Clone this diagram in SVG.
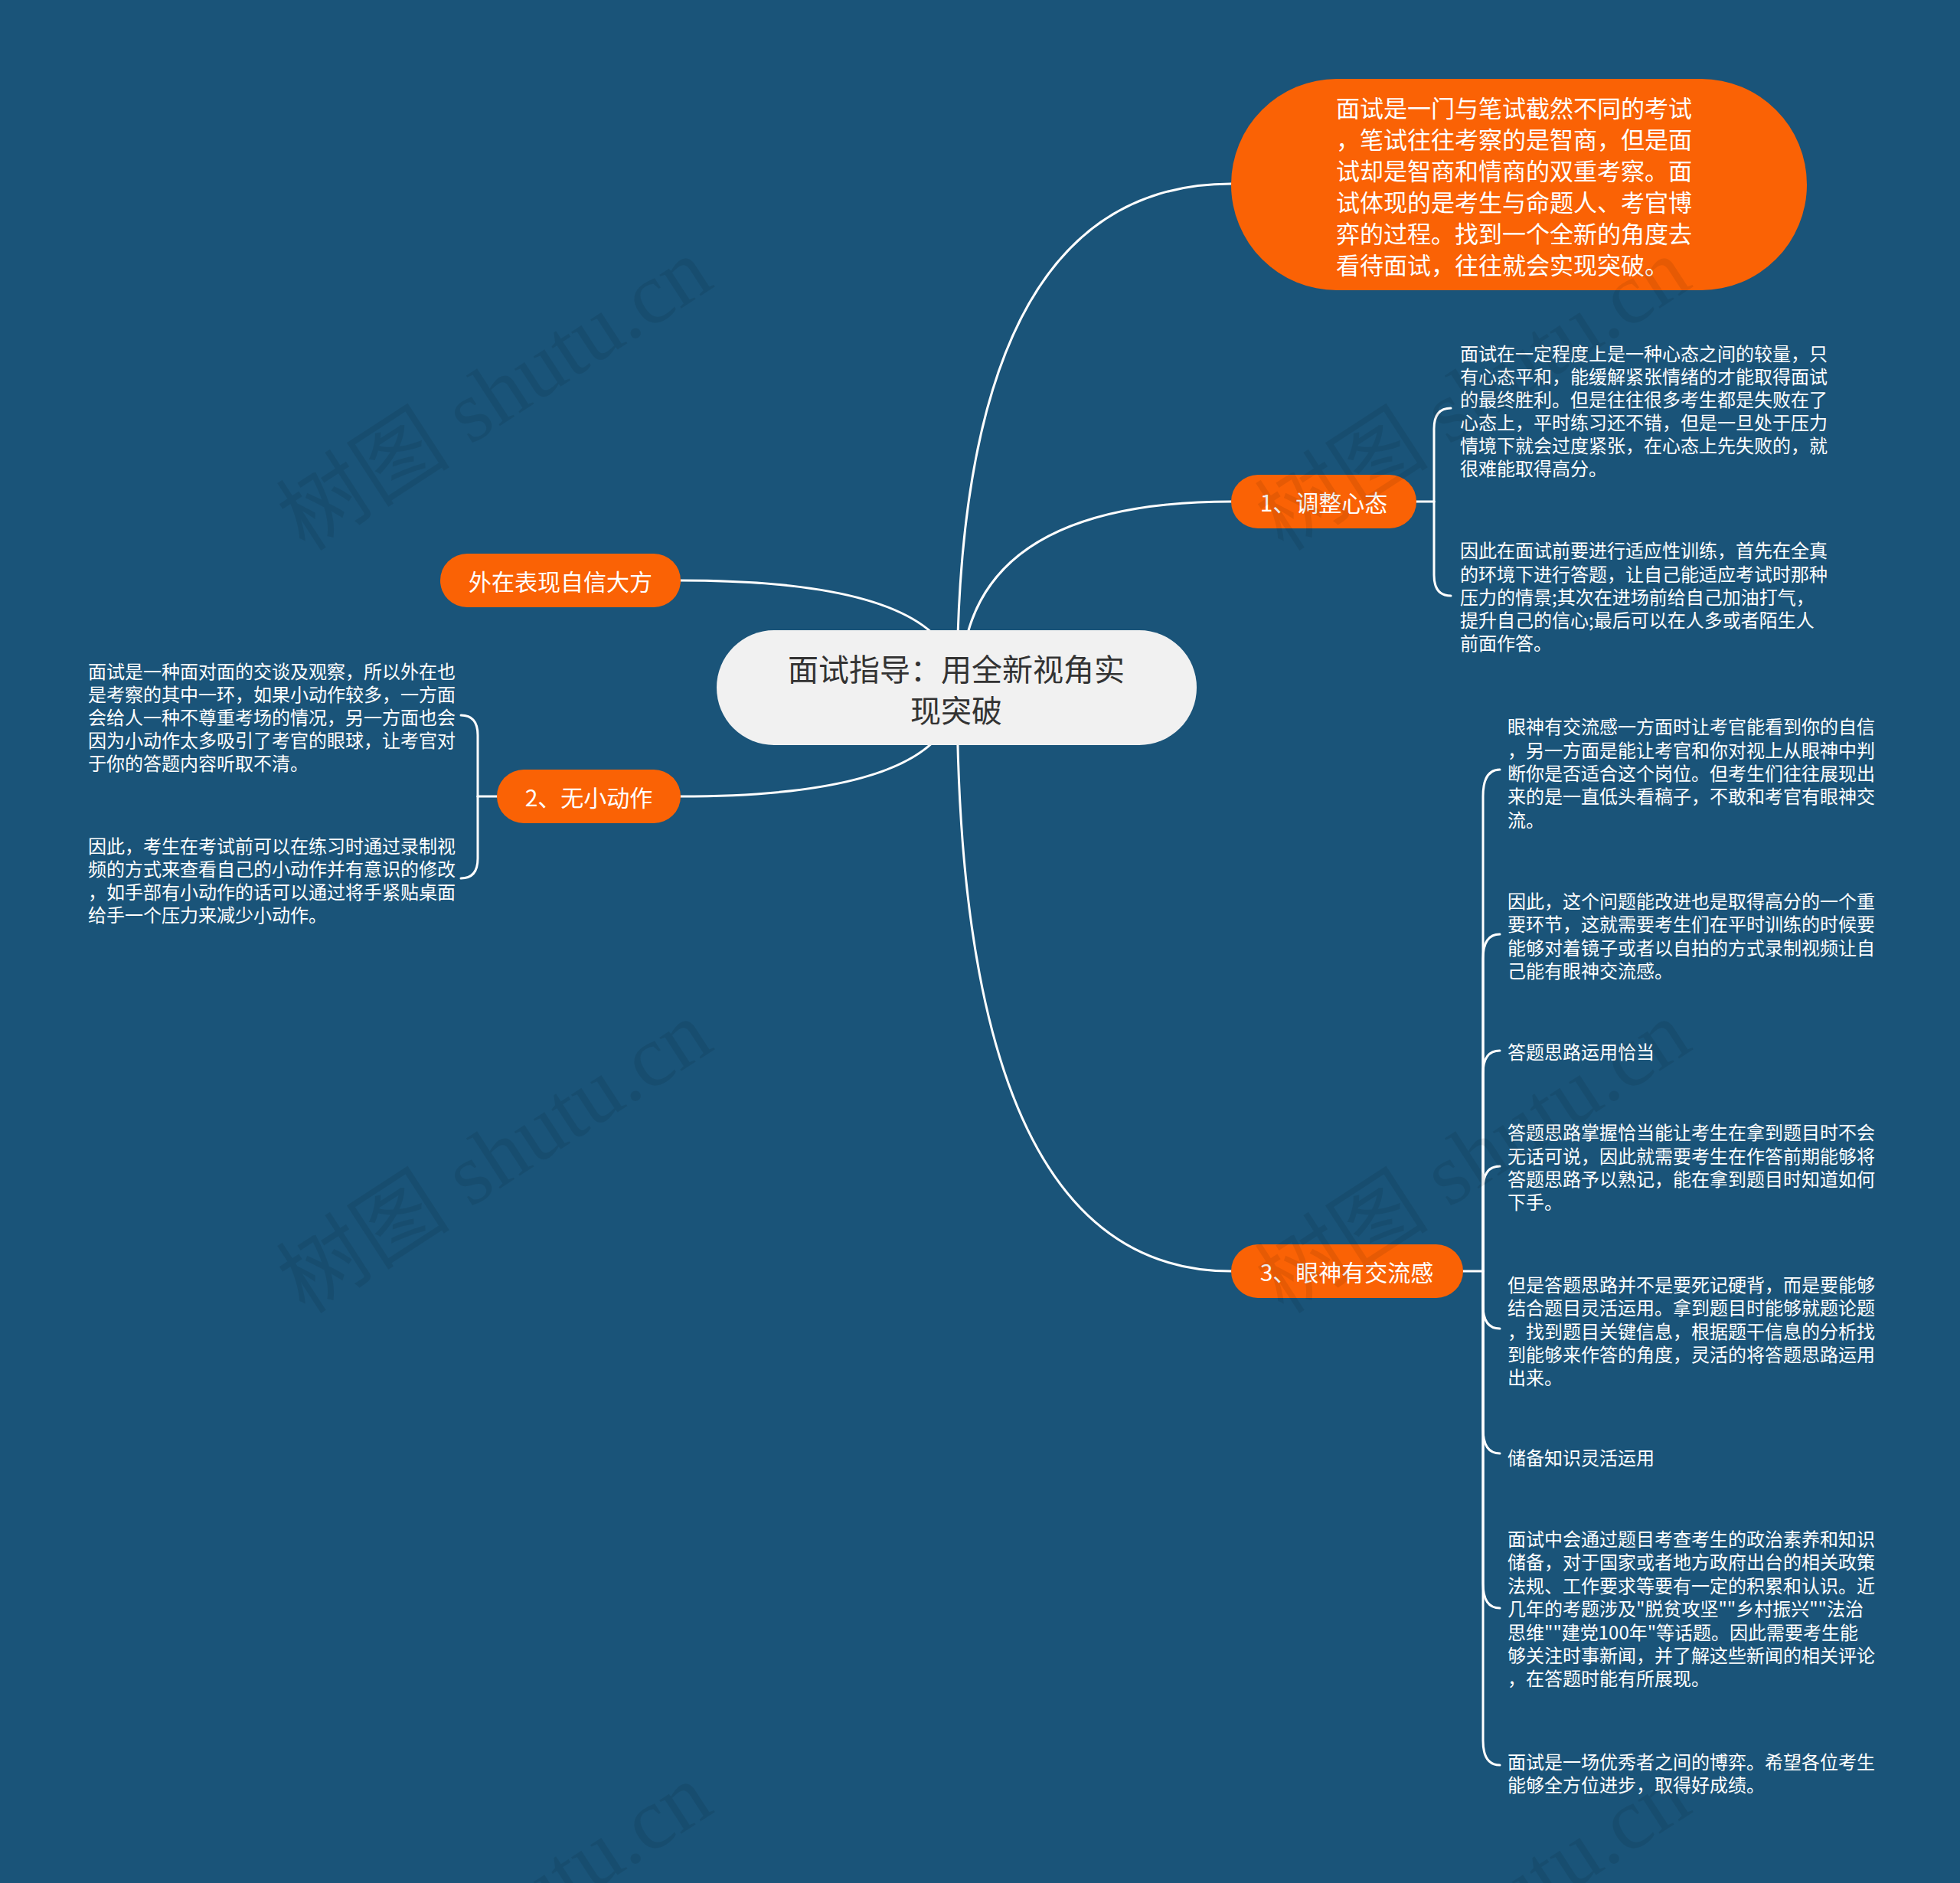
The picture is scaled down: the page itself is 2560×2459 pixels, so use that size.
<svg xmlns="http://www.w3.org/2000/svg" width="2560" height="2459" viewBox="0 0 2560 2459">
<style>
.bg{fill:#1a5479}
.conn path{fill:none;stroke:#ffffff;stroke-width:3;stroke-linecap:round}
.orange{fill:#fa6205}
.center{fill:#f1f1f1}
.t{font-family:"Noto Sans CJK SC","Liberation Sans",sans-serif;dominant-baseline:central}
.title{font-size:40px;fill:#333333;text-anchor:middle}
.lbl{font-size:30px;fill:#ffffff;text-anchor:middle}
.big{font-size:31px;fill:#ffffff}
.leaf{font-size:24px;fill:#ffffff}
.wm{font-family:"Liberation Serif","Noto Sans CJK SC",serif;font-size:114px;fill:#000000;fill-opacity:0.08;text-anchor:middle;dominant-baseline:central}
</style>
<rect class="bg" x="0" y="0" width="2560" height="2459"/>

<g id="connectors" class="conn">
<path d="M1250 898 Q1250 240 1608 240"/>
<path d="M1255 898 Q1255 655 1608 655"/>
<path d="M1250 898 Q1250 1660 1608 1660"/>
<path d="M1250 898 Q1250 758 889 758"/>
<path d="M1250 898 Q1250 1040 889 1040"/>
<path d="M1850 655 L1873 655"/>
<path d="M1873 655 L1873 560 Q1873 533 1895 533"/>
<path d="M1873 655 L1873 751 Q1873 778 1895 778"/>
<path d="M649 1040 L624 1040"/>
<path d="M624 1040 L624 960 Q624 934 602 934"/>
<path d="M624 1040 L624 1121 Q624 1147 602 1147"/>
<path d="M1911 1660 L1937 1660"/>
<path d="M1937 1660 L1937 1040 Q1937 1005 1959 1005"/>
<path d="M1937 1660 L1937 1252 Q1937 1220 1959 1220"/>
<path d="M1937 1660 L1937 1402 Q1937 1372 1959 1372"/>
<path d="M1937 1660 L1937 1553 Q1937 1523 1959 1523"/>
<path d="M1937 1660 L1937 1705 Q1937 1735 1959 1735"/>
<path d="M1937 1660 L1937 1866 Q1937 1898 1959 1898"/>
<path d="M1937 1660 L1937 2068 Q1937 2100 1959 2100"/>
<path d="M1937 1660 L1937 2273 Q1937 2305 1959 2305"/>
</g>

<g id="node-center">
<rect class="center" x="936" y="823" width="627" height="150" rx="75"/>
<text class="t title" x="1249" y="872">面试指导：用全新视角实</text>
<text class="t title" x="1249" y="926">现突破</text>
</g>

<g id="node-intro">
<rect class="orange" x="1608" y="103" width="752" height="276" rx="138"/>
<text class="t big">
<tspan x="1745" y="139">面试是一门与笔试截然不同的考试</tspan>
<tspan x="1745" y="180">，笔试往往考察的是智商，但是面</tspan>
<tspan x="1745" y="221">试却是智商和情商的双重考察。面</tspan>
<tspan x="1745" y="262">试体现的是考生与命题人、考官博</tspan>
<tspan x="1745" y="303">弈的过程。找到一个全新的角度去</tspan>
<tspan x="1745" y="344">看待面试，往往就会实现突破。</tspan>
</text>
</g>

<g id="node-1">
<rect class="orange" x="1608" y="620" width="242" height="70" rx="35"/>
<text class="t lbl" x="1729" y="655">1、调整心态</text>
</g>
<g id="leaf-1a">
<text class="t leaf">
<tspan x="1907" y="460">面试在一定程度上是一种心态之间的较量，只</tspan>
<tspan x="1907" y="490">有心态平和，能缓解紧张情绪的才能取得面试</tspan>
<tspan x="1907" y="520">的最终胜利。但是往往很多考生都是失败在了</tspan>
<tspan x="1907" y="550">心态上，平时练习还不错，但是一旦处于压力</tspan>
<tspan x="1907" y="580">情境下就会过度紧张，在心态上先失败的，就</tspan>
<tspan x="1907" y="610">很难能取得高分。</tspan>
</text>
</g>
<g id="leaf-1b">
<text class="t leaf">
<tspan x="1907" y="717">因此在面试前要进行适应性训练，首先在全真</tspan>
<tspan x="1907" y="748">的环境下进行答题，让自己能适应考试时那种</tspan>
<tspan x="1907" y="778">压力的情景;其次在进场前给自己加油打气，</tspan>
<tspan x="1907" y="808">提升自己的信心;最后可以在人多或者陌生人</tspan>
<tspan x="1907" y="838">前面作答。</tspan>
</text>
</g>

<g id="node-outer">
<rect class="orange" x="575" y="723" width="314" height="70" rx="35"/>
<text class="t lbl" x="732" y="758">外在表现自信大方</text>
</g>

<g id="node-2">
<rect class="orange" x="649" y="1005" width="240" height="70" rx="35"/>
<text class="t lbl" x="769" y="1040">2、无小动作</text>
</g>
<g id="leaf-2a">
<text class="t leaf">
<tspan x="115" y="875">面试是一种面对面的交谈及观察，所以外在也</tspan>
<tspan x="115" y="905">是考察的其中一环，如果小动作较多，一方面</tspan>
<tspan x="115" y="935">会给人一种不尊重考场的情况，另一方面也会</tspan>
<tspan x="115" y="965">因为小动作太多吸引了考官的眼球，让考官对</tspan>
<tspan x="115" y="995">于你的答题内容听取不清。</tspan>
</text>
</g>
<g id="leaf-2b">
<text class="t leaf">
<tspan x="115" y="1103">因此，考生在考试前可以在练习时通过录制视</tspan>
<tspan x="115" y="1133">频的方式来查看自己的小动作并有意识的修改</tspan>
<tspan x="115" y="1163">，如手部有小动作的话可以通过将手紧贴桌面</tspan>
<tspan x="115" y="1193">给手一个压力来减少小动作。</tspan>
</text>
</g>

<g id="node-3">
<rect class="orange" x="1608" y="1625" width="303" height="70" rx="35"/>
<text class="t lbl" x="1759" y="1660">3、眼神有交流感</text>
</g>
<g id="leaf-3a">
<text class="t leaf">
<tspan x="1969" y="947">眼神有交流感一方面时让考官能看到你的自信</tspan>
<tspan x="1969" y="978">，另一方面是能让考官和你对视上从眼神中判</tspan>
<tspan x="1969" y="1008">断你是否适合这个岗位。但考生们往往展现出</tspan>
<tspan x="1969" y="1038">来的是一直低头看稿子，不敢和考官有眼神交</tspan>
<tspan x="1969" y="1069">流。</tspan>
</text>
</g>
<g id="leaf-3b">
<text class="t leaf">
<tspan x="1969" y="1175">因此，这个问题能改进也是取得高分的一个重</tspan>
<tspan x="1969" y="1205">要环节，这就需要考生们在平时训练的时候要</tspan>
<tspan x="1969" y="1236">能够对着镜子或者以自拍的方式录制视频让自</tspan>
<tspan x="1969" y="1266">己能有眼神交流感。</tspan>
</text>
</g>
<g id="leaf-3c">
<text class="t leaf" x="1969" y="1372">答题思路运用恰当</text>
</g>
<g id="leaf-3d">
<text class="t leaf">
<tspan x="1969" y="1477">答题思路掌握恰当能让考生在拿到题目时不会</tspan>
<tspan x="1969" y="1508">无话可说，因此就需要考生在作答前期能够将</tspan>
<tspan x="1969" y="1538">答题思路予以熟记，能在拿到题目时知道如何</tspan>
<tspan x="1969" y="1568">下手。</tspan>
</text>
</g>
<g id="leaf-3e">
<text class="t leaf">
<tspan x="1969" y="1676">但是答题思路并不是要死记硬背，而是要能够</tspan>
<tspan x="1969" y="1706">结合题目灵活运用。拿到题目时能够就题论题</tspan>
<tspan x="1969" y="1737">，找到题目关键信息，根据题干信息的分析找</tspan>
<tspan x="1969" y="1767">到能够来作答的角度，灵活的将答题思路运用</tspan>
<tspan x="1969" y="1797">出来。</tspan>
</text>
</g>
<g id="leaf-3f">
<text class="t leaf" x="1969" y="1902">储备知识灵活运用</text>
</g>
<g id="leaf-3g">
<text class="t leaf">
<tspan x="1969" y="2008">面试中会通过题目考查考生的政治素养和知识</tspan>
<tspan x="1969" y="2038">储备，对于国家或者地方政府出台的相关政策</tspan>
<tspan x="1969" y="2069">法规、工作要求等要有一定的积累和认识。近</tspan>
<tspan x="1969" y="2099">几年的考题涉及"脱贫攻坚""乡村振兴""法治</tspan>
<tspan x="1969" y="2130">思维""建党100年"等话题。因此需要考生能</tspan>
<tspan x="1969" y="2160">够关注时事新闻，并了解这些新闻的相关评论</tspan>
<tspan x="1969" y="2190">，在答题时能有所展现。</tspan>
</text>
</g>
<g id="leaf-3h">
<text class="t leaf">
<tspan x="1969" y="2299">面试是一场优秀者之间的博弈。希望各位考生</tspan>
<tspan x="1969" y="2329">能够全方位进步，取得好成绩。</tspan>
</text>
</g>

<g id="watermarks">
<text class="wm" transform="translate(646 515) rotate(-33)">树图 shutu.cn</text>
<text class="wm" transform="translate(1924 515) rotate(-33)">树图 shutu.cn</text>
<text class="wm" transform="translate(646 1511) rotate(-33)">树图 shutu.cn</text>
<text class="wm" transform="translate(1924 1511) rotate(-33)">树图 shutu.cn</text>
<text class="wm" transform="translate(646 2507) rotate(-33)">树图 shutu.cn</text>
<text class="wm" transform="translate(1924 2507) rotate(-33)">树图 shutu.cn</text>
</g>
</svg>
